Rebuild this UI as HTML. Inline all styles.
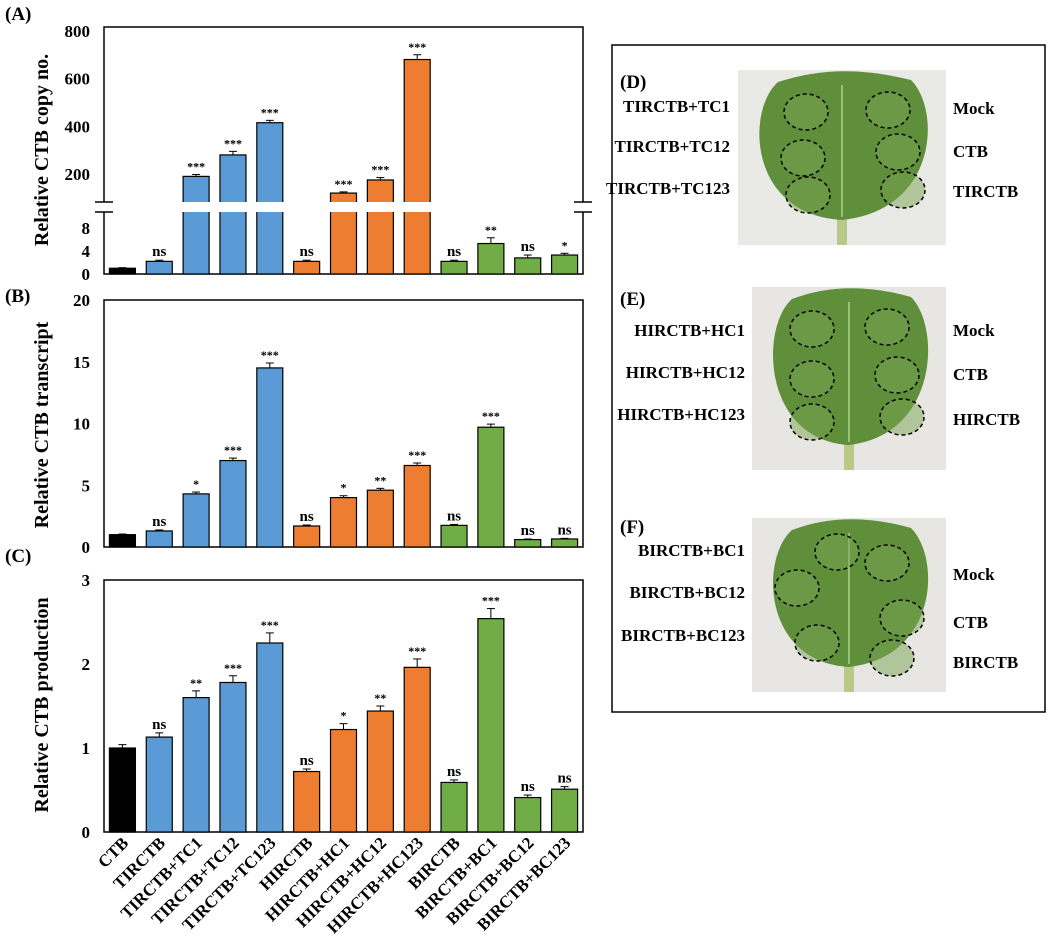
<!DOCTYPE html>
<html><head><meta charset="utf-8"><style>
body{margin:0;background:#fff;}
svg{display:block;font-family:"Liberation Serif",serif;font-weight:bold;}
</style></head><body>
<svg id="fig" width="1052" height="945" viewBox="0 0 1052 945"></svg>
<script>
const categories=["CTB","TIRCTB","TIRCTB+TC1","TIRCTB+TC12","TIRCTB+TC123","HIRCTB","HIRCTB+HC1","HIRCTB+HC12","HIRCTB+HC123","BIRCTB","BIRCTB+BC1","BIRCTB+BC12","BIRCTB+BC123"];
const groupColors=["#000000","#5B9BD5","#5B9BD5","#5B9BD5","#5B9BD5","#ED7D31","#ED7D31","#ED7D31","#ED7D31","#70AD47","#70AD47","#70AD47","#70AD47"];
const copyValues=[1,2.2,190,280,415,2.2,120,175,680,2.2,5.3,2.8,3.3];
const copyErrors=[0.1,0.2,8,15,10,0.2,5,10,20,0.2,1,0.5,0.3];
const copySig=["","ns","***","***","***","ns","***","***","***","ns","**","ns","*"];
const transValues=[1,1.3,4.3,7.0,14.5,1.7,4.0,4.6,6.6,1.75,9.7,0.6,0.65];
const transErrors=[0.05,0.08,0.15,0.2,0.4,0.08,0.15,0.15,0.2,0.08,0.25,0.05,0.05];
const transSig=["","ns","*","***","***","ns","*","**","***","ns","***","ns","ns"];
const prodValues=[1.0,1.13,1.6,1.78,2.25,0.72,1.22,1.44,1.96,0.59,2.54,0.41,0.51];
const prodErrors=[0.04,0.05,0.08,0.08,0.12,0.03,0.07,0.06,0.1,0.03,0.12,0.03,0.03];
const prodSig=["","ns","**","***","***","ns","*","**","***","ns","***","ns","ns"];
const copyUpperTicks=[200,400,600,800];
const copyLowerTicks=[0,4,8];
const transTicks=[0,5,10,15,20];
const prodTicks=[0,1,2,3];

const NS="http://www.w3.org/2000/svg";
const svg=document.getElementById('fig');
function mk(tag,attrs,parent,text){const e=document.createElementNS(NS,tag);for(const k in attrs)e.setAttribute(k,attrs[k]);if(text!==undefined)e.textContent=text;(parent||svg).appendChild(e);return e;}
const X0=104,X1=583,bw=(X1-X0)/categories.length;
const xc=i=>X0+bw*(i+0.5);
const barW=26;

function axisBox(top,bot,name){
  const r=mk('rect',{x:X0,y:top,width:X1-X0,height:bot-top,fill:'none',stroke:'#000','stroke-width':1.5});
  
}
function drawBars(vals,errs,sigs,yf,y0,prefix){
  vals.forEach((v,i)=>{
    const yt=yf(v);
    const b=mk('rect',{x:xc(i)-barW/2,y:yt,width:barW,height:y0-yt,fill:groupColors[i],stroke:'#000','stroke-width':1.2});
    
    
    const ye=yf(v+errs[i]);
    mk('line',{x1:xc(i),x2:xc(i),y1:yt,y2:ye,stroke:'#000','stroke-width':1});
    mk('line',{x1:xc(i)-4,x2:xc(i)+4,y1:ye,y2:ye,stroke:'#000','stroke-width':1});
    if(sigs[i]){const t=mk('text',{x:xc(i),y:ye-4,'text-anchor':'middle','font-size':sigs[i]=='ns'?15:12},svg,sigs[i]);
      }
  });
}
function ticks(list,yf,prefix){
  list.forEach(v=>{const t=mk('text',{x:X0-14,y:yf(v)+6,'text-anchor':'end','font-size':17},svg,v);
    });
}
function ytitle(txt,cy,name){const t=mk('text',{x:0,y:0,transform:`translate(48,${cy}) rotate(-90)`,'text-anchor':'middle','font-size':20},svg,txt);
  }
function plabel(txt,x,y,name){const t=mk('text',{x:x,y:y,'font-size':19},svg,txt);}

// Panel A (broken axis)
const A_top=27,A_bot=274,A_brk1=202,A_brk2=212;
const yUp=v=>174-(v-200)*(47.7/200);
const yLo=v=>A_bot-v*(46/8);
const yA=v=>v>12?yUp(v):yLo(v);
axisBox(A_top,A_bot,'panel-a-axes');
drawBars(copyValues,copyErrors,copySig,yA,A_bot,'copy');
mk('rect',{x:X0-8,y:A_brk1,width:X1-X0+16,height:A_brk2-A_brk1,fill:'#fff'});
[X0,X1].forEach(x=>{mk('line',{x1:x-9,x2:x+9,y1:A_brk1,y2:A_brk1,stroke:'#000','stroke-width':1.5});mk('line',{x1:x-9,x2:x+9,y1:A_brk2,y2:A_brk2,stroke:'#000','stroke-width':1.5});});
ticks(copyUpperTicks,yUp,'copy-upper');ticks(copyLowerTicks,yLo,'copy-lower');
ytitle('Relative CTB copy no.',150,'panel-a-y-title');
plabel('(A)',5,20,'panel-a-label');

// Panel B
const B_top=300,B_bot=547;
const yB=v=>B_bot-v*(B_bot-B_top)/20;
axisBox(B_top,B_bot,'panel-b-axes');
drawBars(transValues,transErrors,transSig,yB,B_bot,'transcript');
ticks(transTicks,yB,'transcript');
ytitle('Relative CTB transcript',425,'panel-b-y-title');
plabel('(B)',5,302,'panel-b-label');

// Panel C
const C_top=580,C_bot=832;
const yC=v=>C_bot-v*(C_bot-C_top)/3;
axisBox(C_top,C_bot,'panel-c-axes');
drawBars(prodValues,prodErrors,prodSig,yC,C_bot,'production');
ticks(prodTicks,yC,'production');
ytitle('Relative CTB production',705,'panel-c-y-title');
plabel('(C)',5,562,'panel-c-label');

categories.forEach((c,i)=>{const t=mk('text',{x:0,y:0,transform:`translate(${xc(i)+7},${C_bot+12}) rotate(-45)`,'text-anchor':'end','font-size':17},svg,c);
  });

// Right panel
const box=mk('rect',{x:612,y:45,width:433,height:667,fill:'none',stroke:'#000','stroke-width':1.5});

function leaf(px,py,pw,ph,bg,circles,name){
  const g=mk('g',{});
  mk('rect',{x:px,y:py,width:pw,height:ph,fill:bg},g);
  const cx=px+pw/2;
  mk('rect',{x:cx-5,y:py+ph-40,width:10,height:40,fill:'#b8c98a'},g);
  mk('path',{d:`M${cx},${py+ph-25} C${px+10},${py+ph-30} ${px+8},${py+40} ${px+40},${py+12} C${cx-20},${py-2} ${cx+20},${py-2} ${px+pw-35},${py+10} C${px+pw-5},${py+40} ${px+pw-8},${py+ph-35} ${cx},${py+ph-25}Z`,fill:'#5f8f3a'},g);
  mk('line',{x1:cx,y1:py+15,x2:cx,y2:py+ph-28,stroke:'#9fbf70','stroke-width':2},g);
  circles.forEach(p=>mk('ellipse',{cx:px+p[0],cy:py+p[1],rx:22,ry:18,fill:'#7aa352','fill-opacity':0.5,stroke:'#000','stroke-width':1.5,'stroke-dasharray':'4,3'},g));
}
leaf(738,70,208,175,'#e9e9e6',[[68,42],[150,40],[65,88],[160,82],[70,125],[165,120]],'leaf-image-d');
leaf(752,287,194,183,'#e8e6e2',[[60,42],[135,40],[60,92],[145,88],[60,135],[150,130]],'leaf-image-e');
leaf(752,518,194,174,'#e8e6e2',[[85,34],[135,45],[45,70],[150,100],[65,125],[140,140]],'leaf-image-f');

const rlabels=[["(D)",620,88],["(E)",620,305],["(F)",620,533]];
rlabels.forEach(l=>plabel(l[0],l[1],l[2],'panel-'+l[0][1].toLowerCase()+'-label'));
const leftTexts=[["TIRCTB+TC1",112],["TIRCTB+TC12",152],["TIRCTB+TC123",194],["HIRCTB+HC1",336],["HIRCTB+HC12",378],["HIRCTB+HC123",420],["BIRCTB+BC1",556],["BIRCTB+BC12",598],["BIRCTB+BC123",641]];
leftTexts.forEach((l,i)=>{const t=mk('text',{x:[730,730,730,745,745,745,745,745,745][i],y:l[1],'text-anchor':'end','font-size':17},svg,l[0]);
  });
const rightTexts=[["Mock",953,114],["CTB",953,157],["TIRCTB",953,197],["Mock",953,336],["CTB",953,380],["HIRCTB",953,425],["Mock",953,580],["CTB",953,628],["BIRCTB",953,668]];
rightTexts.forEach((l,i)=>{const t=mk('text',{x:l[1],y:l[2],'font-size':17},svg,l[0]);
  });
</script>
</body></html>
